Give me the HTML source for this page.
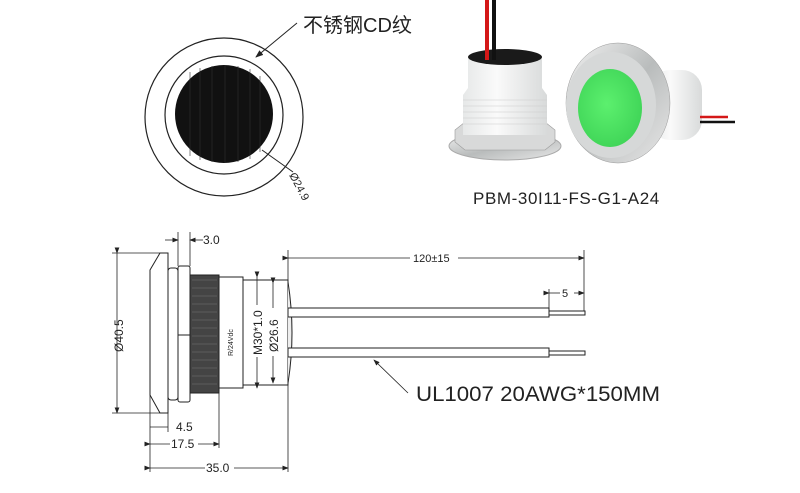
<!DOCTYPE html>
<html><head><meta charset="utf-8"><style>
html,body{margin:0;padding:0;background:#fff;}
svg{display:block}
text{font-family:"Liberation Sans",Arial,sans-serif;fill:#222}
</style></head><body>
<svg width="800" height="493" viewBox="0 0 800 493" xmlns="http://www.w3.org/2000/svg">
<defs>
<marker id="ar" markerWidth="8" markerHeight="6" refX="7" refY="3" orient="auto"><path d="M0,0 L8,3 L0,6 z" fill="#222"/></marker>
<linearGradient id="wh" x1="0" x2="1"><stop offset="0" stop-color="#e6e8e8"/><stop offset=".4" stop-color="#fafafa"/><stop offset="1" stop-color="#d8dada"/></linearGradient>
<linearGradient id="met" x1="0" x2="1" y1="0" y2="1"><stop offset="0" stop-color="#f2f2f2"/><stop offset=".5" stop-color="#b9bcbc"/><stop offset="1" stop-color="#e8e8e8"/></linearGradient>
<radialGradient id="gr" cx=".45" cy=".45" r=".6"><stop offset="0" stop-color="#5cf06e"/><stop offset="1" stop-color="#3fd457"/></radialGradient>
</defs>

<circle cx="224" cy="117" r="79" fill="none" stroke="#222" stroke-width="1.2"/>
<circle cx="224" cy="115" r="59" fill="none" stroke="#222" stroke-width="1.2"/>
<circle cx="224" cy="114" r="49" fill="#111"/>
<g stroke="#333" stroke-width="0.6">
<line x1="190" y1="72" x2="190" y2="156"/><line x1="200" y1="68" x2="200" y2="160"/><line x1="212" y1="66" x2="212" y2="162"/><line x1="225" y1="65" x2="225" y2="163"/><line x1="238" y1="66" x2="238" y2="162"/><line x1="250" y1="69" x2="250" y2="159"/><line x1="260" y1="76" x2="260" y2="152"/>
</g>
<line x1="297" y1="23" x2="256" y2="57" stroke="#222" stroke-width="1" marker-end="url(#ar)"/>
<text x="303" y="32" font-size="20" style='font-family:"Liberation Sans","Noto Sans CJK SC",sans-serif'>不锈钢CD纹</text>
<line x1="262" y1="150" x2="293" y2="172" stroke="#222" stroke-width="1"/>
<text x="0" y="0" font-size="11" transform="translate(289,175) rotate(62)">Ø24.9</text>

<ellipse cx="505" cy="146" rx="56" ry="14" fill="url(#met)" stroke="#aaa"/>
<polygon points="455,130 465,122 545,122 555,130 555,142 545,150 465,150 455,142" fill="#d8d9d9" stroke="#999" stroke-width=".6"/>
<rect x="463" y="95" width="84" height="40" fill="url(#wh)"/>
<g stroke="#ccc" stroke-width=".6"><line x1="463" y1="100" x2="547" y2="100"/><line x1="463" y1="106" x2="547" y2="106"/><line x1="463" y1="112" x2="547" y2="112"/><line x1="463" y1="118" x2="547" y2="118"/><line x1="463" y1="124" x2="547" y2="124"/></g>
<path d="M468,57 L468,88 L463,95 L547,95 L542,88 L542,57 z" fill="url(#wh)"/>
<ellipse cx="505" cy="57" rx="37" ry="8" fill="#1a1a1a"/>
<rect x="485" y="0" width="4" height="60" fill="#d41818"/>
<rect x="492" y="0" width="4" height="60" fill="#111"/>

<rect x="650" y="70" width="52" height="70" rx="20" fill="url(#wh)"/>
<line x1="700" y1="117" x2="728" y2="117" stroke="#d41818" stroke-width="2.5"/>
<line x1="700" y1="122" x2="735" y2="122" stroke="#111" stroke-width="2.5"/>
<ellipse cx="618" cy="103" rx="52" ry="60" fill="url(#met)" stroke="#999" stroke-width=".5"/>
<ellipse cx="611" cy="105" rx="45" ry="53" fill="#d6d8d8"/>
<ellipse cx="610" cy="108" rx="32" ry="39" fill="url(#gr)"/>
<text x="473" y="204" font-size="17" letter-spacing="0.6">PBM-30I11-FS-G1-A24</text>

<g fill="#fff" stroke="#222" stroke-width="1">
<path d="M160,253 L168,253 L168,413 L160,413 L150,395 L150,270 z"/>
<rect x="168" y="268" width="10" height="132" rx="3"/>
<rect x="178" y="266" width="12" height="136" rx="2"/>
<line x1="178" y1="335" x2="190" y2="335"/>
<rect x="190" y="275" width="29" height="118" fill="#444"/>
<rect x="219" y="277" width="24" height="111"/>
<rect x="243" y="280" width="45" height="105"/>
<path d="M288,282 Q296,333 288,383" fill="#eee"/>
</g>
<g stroke="#777" stroke-width=".6">
<line x1="192" y1="280" x2="217" y2="280"/><line x1="192" y1="288" x2="217" y2="288"/><line x1="192" y1="296" x2="217" y2="296"/><line x1="192" y1="304" x2="217" y2="304"/><line x1="192" y1="312" x2="217" y2="312"/><line x1="192" y1="320" x2="217" y2="320"/><line x1="192" y1="328" x2="217" y2="328"/><line x1="192" y1="336" x2="217" y2="336"/><line x1="192" y1="344" x2="217" y2="344"/><line x1="192" y1="352" x2="217" y2="352"/><line x1="192" y1="360" x2="217" y2="360"/><line x1="192" y1="368" x2="217" y2="368"/><line x1="192" y1="376" x2="217" y2="376"/><line x1="192" y1="384" x2="217" y2="384"/>
</g>
<text font-size="7" transform="translate(233,356) rotate(-90)">R/24Vdc</text>

<g fill="#fff" stroke="#222" stroke-width="1">
<rect x="288" y="308" width="261" height="9"/>
<rect x="549" y="311" width="36" height="4"/>
<rect x="288" y="348" width="261" height="9"/>
<rect x="549" y="351" width="36" height="4"/>
</g>

<g stroke="#222" stroke-width=".8" fill="none">
<line x1="117" y1="253" x2="117" y2="413" marker-start="url(#ar)" marker-end="url(#ar)"/>
<line x1="112" y1="253" x2="160" y2="253"/><line x1="112" y1="413" x2="160" y2="413"/>
<line x1="178" y1="232" x2="178" y2="266"/><line x1="190" y1="232" x2="190" y2="266"/>
<line x1="165" y1="240" x2="178" y2="240" marker-end="url(#ar)"/><line x1="203" y1="240" x2="190" y2="240" marker-end="url(#ar)"/>
<line x1="150" y1="395" x2="150" y2="472"/>
<line x1="168" y1="413" x2="168" y2="432"/>
<line x1="219" y1="393" x2="219" y2="448"/>
<line x1="288" y1="385" x2="288" y2="472"/>
<line x1="150" y1="427" x2="168" y2="427"/>
<line x1="150" y1="444" x2="170" y2="444" marker-start="url(#ar)"/><line x1="198" y1="444" x2="219" y2="444" marker-end="url(#ar)"/>
<line x1="150" y1="468" x2="205" y2="468" marker-start="url(#ar)"/><line x1="234" y1="468" x2="288" y2="468" marker-end="url(#ar)"/>
<line x1="257" y1="277" x2="257" y2="388" marker-start="url(#ar)" marker-end="url(#ar)"/>
<line x1="273" y1="283" x2="273" y2="383" marker-start="url(#ar)" marker-end="url(#ar)"/>
<line x1="288" y1="250" x2="288" y2="282"/><line x1="584" y1="250" x2="584" y2="311"/>
<line x1="288" y1="258" x2="410" y2="258" marker-start="url(#ar)"/><line x1="458" y1="258" x2="584" y2="258" marker-end="url(#ar)"/>
<line x1="549" y1="289" x2="549" y2="311"/>
<line x1="549" y1="293" x2="560" y2="293" marker-start="url(#ar)"/><line x1="574" y1="293" x2="584" y2="293" marker-end="url(#ar)"/>
<line x1="408" y1="393" x2="374" y2="360" marker-end="url(#ar)"/>
</g>
<rect x="252" y="305" width="10" height="52" fill="#fff"/>
<rect x="268" y="308" width="10" height="48" fill="#fff"/>
<text font-size="12" transform="translate(123,352) rotate(-90)">Ø40.5</text>
<text x="203" y="244" font-size="12">3.0</text>
<text x="176" y="431" font-size="12">4.5</text>
<text x="171" y="448" font-size="12">17.5</text>
<text x="206" y="472" font-size="12">35.0</text>
<text font-size="12" transform="translate(262,355) rotate(-90)">M30*1.0</text>
<text font-size="12" transform="translate(278,352) rotate(-90)">Ø26.6</text>
<text x="413" y="262" font-size="11">120±15</text>
<text x="562" y="297" font-size="11">5</text>
<text x="416" y="401" font-size="21" textLength="244" lengthAdjust="spacingAndGlyphs">UL1007 20AWG*150MM</text>
</svg>
</body></html>
